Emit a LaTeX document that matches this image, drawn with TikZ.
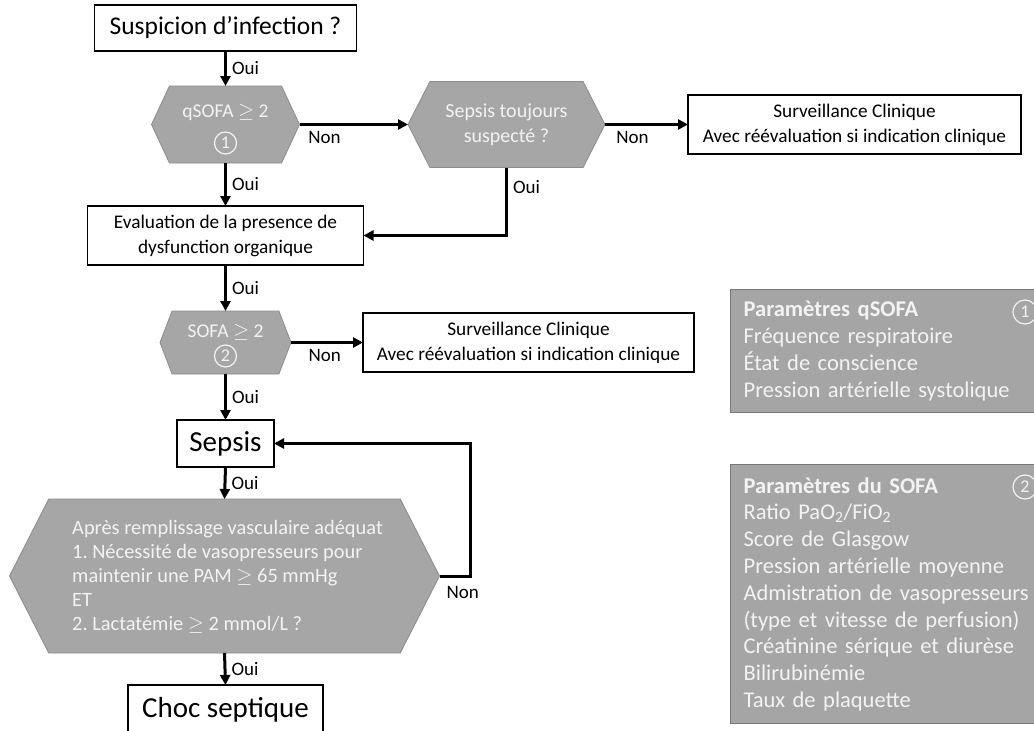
\documentclass[tikz,border=0pt]{standalone}
\usepackage{fontspec}
\setmainfont{Carlito}
\frenchspacing
\usetikzlibrary{arrows.meta,shapes.symbols}
\definecolor{hexfill}{RGB}{166,166,166}
\definecolor{hexline}{RGB}{140,140,140}
\definecolor{panelfill}{RGB}{165,165,165}
\definecolor{panelline}{RGB}{120,120,120}
\definecolor{lighttxt}{RGB}{243,243,243}
\tikzset{
  box/.style={draw=black, fill=white, line width=1.3pt, align=center, inner sep=0pt,
    outer sep=0pt, font=\fontsize{19.3}{25}\selectfont},
  bigbox/.style={box, font=\fontsize{25.5}{30}\selectfont},
  hugebox/.style={box, font=\fontsize{29}{34}\selectfont},
  hexa/.style={signal, signal to=west and east, signal pointer angle=#1, draw=hexline,
    fill=hexfill, line width=0.8pt, inner sep=0pt, outer sep=0pt, text=lighttxt,
    align=center, font=\fontsize{20}{25}\selectfont},
  hexa/.default=128,
  htxt/.style={text=lighttxt, inner sep=0pt, font=\fontsize{19.5}{23}\selectfont},
  rond/.style={circle, draw=lighttxt, line width=1.2pt, text=lighttxt, inner sep=0pt,
    minimum size=22pt, font=\fontsize{18}{18}\selectfont},
  panel/.style={draw=panelline, fill=panelfill, line width=1.3pt, text=lighttxt,
    align=left, anchor=north west, inner xsep=13pt, inner ysep=0pt, text width=300pt,
    font=\fontsize{22.5}{26.8}\selectfont},
  flow/.style={-{Triangle[length=10pt,width=10pt]}, line width=3pt, draw=black},
  lbl/.style={font=\fontsize{19}{20}\selectfont, text=black, inner sep=5pt},
}
\begin{document}
\begin{tikzpicture}[x=1pt, y=-1pt]
  \useasboundingbox (0,0) rectangle (1034,731);
  % main column
  \node[bigbox, minimum width=262pt, minimum height=46pt] (susp) at (225.5,28) {Suspicion d'infection ?};
  \node[hexa=130, minimum width=148pt, minimum height=77pt] (qsofa) at (225.5,124.5) {};
  \node[htxt] (qsofat) at (225.5,112) {qSOFA $\geq$ 2};
  \node[rond] (rond1) at (225.5,143) {1};
  \node[hexa=126, minimum width=197pt, minimum height=86pt] (stj) at (506.5,124.5) {Sepsis toujours\\suspecté ?};
  \node[box, minimum width=333pt, minimum height=59pt] (surv1) at (854.5,124.5) {Surveillance Clinique\\Avec réévaluation si indication clinique};
  \node[box, minimum width=276pt, minimum height=59pt] (eval) at (225.5,235.5) {Evaluation de la presence de\\dysfunction organique};
  \node[hexa=138, minimum width=131pt, minimum height=63pt] (sofa) at (225.5,342.5) {};
  \node[htxt] (sofat) at (225.5,332) {SOFA $\geq$ 2};
  \node[rond] (rond2) at (225.5,356) {2};
  \node[box, minimum width=331pt, minimum height=59pt] (surv2) at (528.5,342.5) {Surveillance Clinique\\Avec réévaluation si indication clinique};
  \node[hugebox, minimum width=97pt, minimum height=47pt] (sepsis) at (225.5,443.5) {Sepsis};
  \node[hexa=126, minimum width=430pt, minimum height=154pt] (crit) at (224.5,576) {};
  \node[htxt, anchor=west, align=left, font=\fontsize{20.4}{24}\selectfont] (critt) at (72,577) {Après remplissage vasculaire adéquat\\1. Nécessité de vasopresseurs pour\\maintenir une PAM $\geq$ 65 mmHg\\ET\\2. Lactatémie $\geq$ 2 mmol/L ?};
  \node[hugebox, minimum width=195pt, minimum height=50pt] (choc) at (225.5,710) {Choc septique};
  % parameter panels
  \node[panel, minimum height=123pt] (pq) at (730,289) {\textbf{Paramètres qSOFA}\\Fréquence respiratoire\\État de conscience\\Pression artérielle systolique};
  \node[rond, minimum size=24pt] (rondq) at (1025,312) {1};
  \node[panel, minimum height=259pt] (ps) at (730,464) {\textbf{Paramètres du SOFA}\\Ratio PaO\textsubscript{2}/FiO\textsubscript{2}\\Score de Glasgow\\Pression artérielle moyenne\\Admistration de vasopresseurs\\(type et vitesse de perfusion)\\Créatinine sérique et diurèse\\Bilirubinémie\\Taux de plaquette};
  \node[rond, minimum size=24pt] (ronds) at (1025,487) {2};
  % connectors
  \draw[flow] (susp.south) -- node[midway,right,lbl]{Oui} (qsofa.north);
  \draw[flow] (qsofa.east) -- node[pos=0.23,below,lbl]{Non} (stj.west);
  \draw[flow] (stj.east) -- node[pos=0.33,below,lbl]{Non} (surv1.west);
  \draw[flow] (qsofa.south) -- node[midway,right,lbl]{Oui} (eval.north);
  \draw[flow] (stj.south) |- node[pos=0.14,right,lbl]{Oui} (eval.east);
  \draw[flow] (eval.south) -- node[midway,right,lbl]{Oui} (sofa.north);
  \draw[flow] (sofa.east) -- node[pos=0.47,below,lbl]{Non} (surv2.west);
  \draw[flow] (sofa.south) -- node[midway,right,lbl]{Oui} (sepsis.north);
  \draw[flow] (sepsis.south) -- node[midway,right,lbl]{Oui} (crit.north);
  \draw[flow] (crit.east) -- node[pos=0.75,below,lbl,yshift=-4pt]{Non} ++(31,0) |- (sepsis.east);
  \draw[flow] (crit.south) -- node[midway,right,lbl]{Oui} (choc.north);
\end{tikzpicture}
\end{document}
